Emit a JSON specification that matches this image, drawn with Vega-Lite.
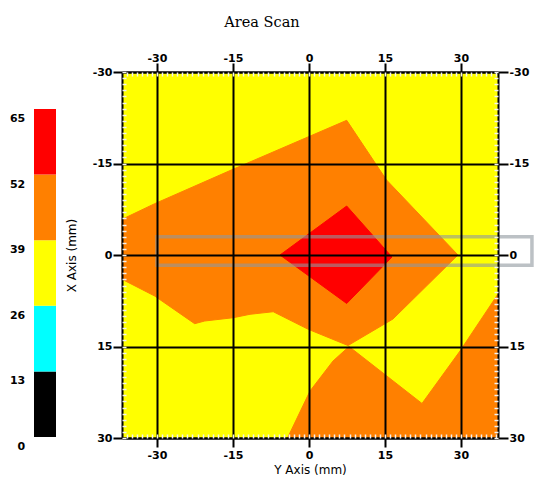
{
  "$schema": "https://vega.github.io/schema/vega-lite/v6.json",
  "width": 376,
  "height": 366,
  "autosize": {"type": "none"},
  "padding": {"left": 122, "top": 72, "right": 36, "bottom": 41},
  "background": "white",
  "title": {"text": "Area Scan", "font": "DejaVu Serif", "fontSize": 14.5, "fontWeight": "normal", "color": "black", "anchor": "middle", "dx": -48, "offset": 22},
  "config": {
    "view": {"fill": "#ffff00", "stroke": null},
    "axis": {
      "labelFont": "DejaVu Sans", "labelFontSize": 11, "labelFontWeight": "bold", "labelColor": "black",
      "labelExpr": "toString(datum.value)",
      "tickColor": "black", "tickWidth": 2, "domainColor": "black", "domainWidth": 2,
      "gridColor": "black", "gridWidth": 2, "gridOpacity": 1,
      "titleFont": "DejaVu Sans", "titleFontSize": 12, "titleFontWeight": "normal", "titleColor": "black"
    }
  },
  "datasets": {
    "shapes": [
      {"shape": "A", "color": "orange", "i": 1, "u": -36.9, "v": -5.85},
      {"shape": "A", "color": "orange", "i": 2, "u": -30.45, "v": -8.41},
      {"shape": "A", "color": "orange", "i": 3, "u": -15.0, "v": -14.05},
      {"shape": "A", "color": "orange", "i": 4, "u": 7.44, "v": -22.08},
      {"shape": "A", "color": "orange", "i": 5, "u": 15.3, "v": -12.3},
      {"shape": "A", "color": "orange", "i": 6, "u": 29.4, "v": 0},
      {"shape": "A", "color": "orange", "i": 7, "u": 16.58, "v": 10.49},
      {"shape": "A", "color": "orange", "i": 8, "u": 7.7, "v": 14.84},
      {"shape": "A", "color": "orange", "i": 9, "u": -0.14, "v": 12.18},
      {"shape": "A", "color": "orange", "i": 10, "u": -7.05, "v": 9.3},
      {"shape": "A", "color": "orange", "i": 11, "u": -11.64, "v": 9.72},
      {"shape": "A", "color": "orange", "i": 12, "u": -14.94, "v": 10.28},
      {"shape": "A", "color": "orange", "i": 13, "u": -20.58, "v": 10.82},
      {"shape": "A", "color": "orange", "i": 14, "u": -22.56, "v": 11.26},
      {"shape": "A", "color": "orange", "i": 15, "u": -30.45, "v": 6.72},
      {"shape": "A", "color": "orange", "i": 16, "u": -36.9, "v": 3.98},
      {"shape": "B", "color": "orange", "i": 1, "u": 7.9, "v": 15.0},
      {"shape": "B", "color": "orange", "i": 2, "u": 22.3, "v": 24.34},
      {"shape": "B", "color": "orange", "i": 3, "u": 29.8, "v": 15.74},
      {"shape": "B", "color": "orange", "i": 4, "u": 37.3, "v": 6.39},
      {"shape": "B", "color": "orange", "i": 5, "u": 37.3, "v": 30},
      {"shape": "B", "color": "orange", "i": 6, "u": -4.24, "v": 30},
      {"shape": "B", "color": "orange", "i": 7, "u": 0.2, "v": 22.3},
      {"shape": "B", "color": "orange", "i": 8, "u": 4.74, "v": 17.38},
      {"shape": "C", "color": "red", "i": 1, "u": 7.44, "v": -8.03},
      {"shape": "C", "color": "red", "i": 2, "u": 16.38, "v": 0.33},
      {"shape": "C", "color": "red", "i": 3, "u": 7.44, "v": 7.95},
      {"shape": "C", "color": "red", "i": 4, "u": -5.72, "v": 0}
    ],
    "band": [{"u1": -30, "u2": 44, "v1": -3.0, "v2": 1.67}],
    "scale": [
      {"lo": 0, "hi": 13, "c": "#000000"},
      {"lo": 13, "hi": 26, "c": "#00ffff"},
      {"lo": 26, "hi": 39, "c": "#ffff00"},
      {"lo": 39, "hi": 52, "c": "#ff8000"},
      {"lo": 52, "hi": 65, "c": "#ff0000"}
    ],
    "scalelabels": [
      {"val": 65, "t": "65"},
      {"val": 52, "t": "52"},
      {"val": 39, "t": "39"},
      {"val": 26, "t": "26"},
      {"val": 13, "t": "13"},
      {"val": 0, "t": "0"}
    ]
  },
  "layer": [
    {
      "layer": [
        {
          "data": {"name": "shapes"},
          "transform": [{"filter": "datum.color == 'orange'"}],
          "mark": {"type": "line", "interpolate": "linear-closed", "fill": "#ff8000", "stroke": "#ff8000", "strokeWidth": 1},
          "encoding": {
            "x": {"field": "u", "type": "quantitative", "scale": {"domain": [-36.9, 37.3], "nice": false, "zero": false},
              "axis": {"orient": "bottom", "values": [-30, -15, 0, 15, 30], "grid": true, "tickSize": 9, "labelPadding": 2, "title": "Y Axis (mm)", "titlePadding": 4, "zindex": 1}},
            "y": {"field": "v", "type": "quantitative", "scale": {"domain": [-30, 30], "reverse": true, "nice": false, "zero": false},
              "axis": {"orient": "left", "values": [-30, -15, 0, 15, 30], "grid": true, "tickSize": 9, "labelPadding": 1, "title": "X Axis (mm)", "titlePadding": 14, "zindex": 1}},
            "detail": {"field": "shape", "type": "nominal"},
            "order": {"field": "i", "type": "quantitative"}
          }
        },
        {
          "data": {"name": "shapes"},
          "transform": [{"filter": "datum.color == 'red'"}],
          "mark": {"type": "line", "interpolate": "linear-closed", "fill": "#ff0000", "stroke": "#ff0000", "strokeWidth": 1},
          "encoding": {
            "x": {"field": "u", "type": "quantitative", "scale": {"domain": [-36.9, 37.3], "nice": false, "zero": false},
              "axis": {"orient": "top", "values": [-30, -15, 0, 15, 30], "grid": false, "tickSize": 9, "labelPadding": 0, "title": null, "zindex": 1}},
            "y": {"field": "v", "type": "quantitative", "scale": {"domain": [-30, 30], "reverse": true, "nice": false, "zero": false},
              "axis": {"orient": "right", "values": [-30, -15, 0, 15, 30], "grid": false, "tickSize": 10, "labelPadding": 1, "title": null, "zindex": 1}},
            "detail": {"field": "shape", "type": "nominal"},
            "order": {"field": "i", "type": "quantitative"}
          }
        },
        {
          "data": {"name": "band"},
          "mark": {"type": "rect", "fill": null, "stroke": "#8f989f", "strokeWidth": 3.5, "strokeOpacity": 0.6},
          "encoding": {
            "x": {"field": "u1", "type": "quantitative", "scale": {"domain": [-36.9, 37.3], "nice": false, "zero": false},
              "axis": {"orient": "bottom", "values": [-36,-35,-34,-33,-32,-31,-30,-29,-28,-27,-26,-25,-24,-23,-22,-21,-20,-19,-18,-17,-16,-15,-14,-13,-12,-11,-10,-9,-8,-7,-6,-5,-4,-3,-2,-1,0,1,2,3,4,5,6,7,8,9,10,11,12,13,14,15,16,17,18,19,20,21,22,23,24,25,26,27,28,29,30,31,32,33,34,35,36,37], "labels": false, "domain": false, "grid": false, "tickSize": -4, "tickColor": "#f2f2f2", "tickWidth": 1.5, "title": null, "zindex": 1}},
            "x2": {"field": "u2"},
            "y": {"field": "v1", "type": "quantitative", "scale": {"domain": [-30, 30], "reverse": true, "nice": false, "zero": false},
              "axis": {"orient": "left", "values": [-30,-29,-28,-27,-26,-25,-24,-23,-22,-21,-20,-19,-18,-17,-16,-15,-14,-13,-12,-11,-10,-9,-8,-7,-6,-5,-4,-3,-2,-1,0,1,2,3,4,5,6,7,8,9,10,11,12,13,14,15,16,17,18,19,20,21,22,23,24,25,26,27,28,29,30], "labels": false, "domain": false, "grid": false, "tickSize": -4, "tickColor": "#f2f2f2", "tickWidth": 1.5, "title": null, "zindex": 1}},
            "y2": {"field": "v2"}
          }
        },
        {
          "data": {"name": "band"},
          "mark": {"type": "rect", "opacity": 0},
          "encoding": {
            "x": {"field": "u1", "type": "quantitative", "scale": {"domain": [-36.9, 37.3], "nice": false, "zero": false},
              "axis": {"orient": "top", "values": [-36,-35,-34,-33,-32,-31,-30,-29,-28,-27,-26,-25,-24,-23,-22,-21,-20,-19,-18,-17,-16,-15,-14,-13,-12,-11,-10,-9,-8,-7,-6,-5,-4,-3,-2,-1,0,1,2,3,4,5,6,7,8,9,10,11,12,13,14,15,16,17,18,19,20,21,22,23,24,25,26,27,28,29,30,31,32,33,34,35,36,37], "labels": false, "domain": false, "grid": false, "tickSize": -4, "tickColor": "#f2f2f2", "tickWidth": 1.5, "title": null, "zindex": 1}},
            "x2": {"field": "u2"},
            "y": {"field": "v1", "type": "quantitative", "scale": {"domain": [-30, 30], "reverse": true, "nice": false, "zero": false},
              "axis": {"orient": "right", "values": [-30,-29,-28,-27,-26,-25,-24,-23,-22,-21,-20,-19,-18,-17,-16,-15,-14,-13,-12,-11,-10,-9,-8,-7,-6,-5,-4,-3,-2,-1,0,1,2,3,4,5,6,7,8,9,10,11,12,13,14,15,16,17,18,19,20,21,22,23,24,25,26,27,28,29,30], "labels": false, "domain": false, "grid": false, "tickSize": -4, "tickColor": "#f2f2f2", "tickWidth": 1.5, "title": null, "zindex": 1}},
            "y2": {"field": "v2"}
          }
        }
      ],
      "resolve": {"axis": {"x": "independent", "y": "independent"}}
    },
    {
      "layer": [
        {
          "data": {"name": "scale"},
          "mark": {"type": "rect"},
          "encoding": {
            "x": {"datum": 0, "type": "quantitative", "scale": {"domain": [0, 1], "range": [-88, -66]}, "axis": null},
            "x2": {"datum": 1},
            "y": {"field": "lo", "type": "quantitative", "scale": {"domain": [0, 65], "range": [365, 37]}, "axis": null},
            "y2": {"field": "hi"},
            "fill": {"field": "c", "type": "nominal", "scale": null}
          }
        },
        {
          "data": {"name": "scalelabels"},
          "mark": {"type": "text", "align": "right", "baseline": "middle", "dy": 10, "font": "DejaVu Sans", "fontSize": 11, "fontWeight": "bold", "color": "black"},
          "encoding": {
            "x": {"datum": -0.4, "type": "quantitative"},
            "y": {"field": "val", "type": "quantitative"},
            "text": {"field": "t", "type": "nominal"}
          }
        }
      ]
    }
  ],
  "resolve": {"scale": {"x": "independent", "y": "independent"}}
}
